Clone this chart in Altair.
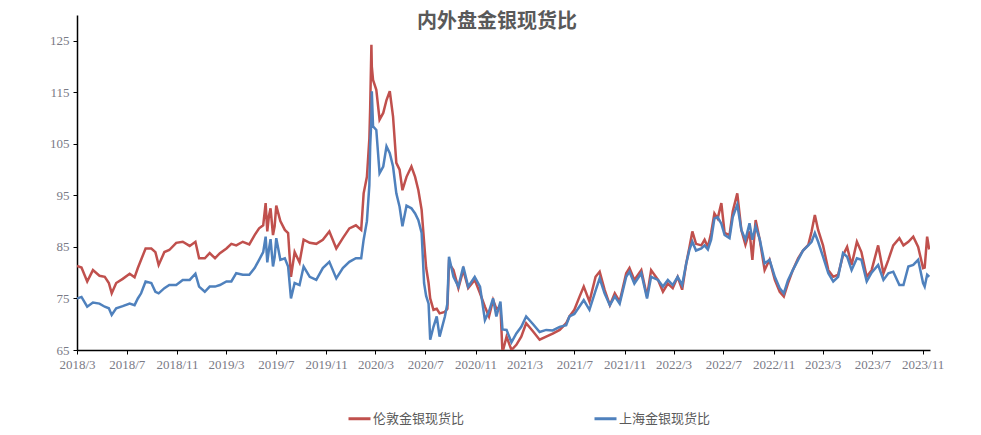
import altair as alt
import pandas as pd

title_text = "内外盘金银现货比"
series_names = ["伦敦金银现货比", "上海金银现货比"]
series_colors = ["#C0504D", "#4F81BD"]

dates = [
    "2018-03-01", "2018-03-12", "2018-03-26", "2018-04-09", "2018-04-25", "2018-05-08", "2018-05-18", "2018-05-25",
    "2018-06-05", "2018-06-21", "2018-07-08", "2018-07-20", "2018-07-28", "2018-08-05", "2018-08-16", "2018-08-30",
    "2018-09-09", "2018-09-17", "2018-10-01", "2018-10-13", "2018-10-30", "2018-11-15", "2018-12-02", "2018-12-16",
    "2018-12-25", "2019-01-08", "2019-01-20", "2019-02-02", "2019-02-14", "2019-03-02", "2019-03-14", "2019-03-26",
    "2019-04-11", "2019-04-27", "2019-05-10", "2019-05-21", "2019-05-31", "2019-06-06", "2019-06-10", "2019-06-14",
    "2019-06-18", "2019-06-24", "2019-06-28", "2019-07-02", "2019-07-12", "2019-07-23", "2019-07-31", "2019-08-07",
    "2019-08-16", "2019-08-28", "2019-09-07", "2019-09-22", "2019-10-08", "2019-10-24", "2019-11-09", "2019-11-26",
    "2019-12-12", "2019-12-28", "2020-01-13", "2020-01-26", "2020-02-01", "2020-02-09", "2020-02-15", "2020-02-17",
    "2020-02-20", "2020-02-21", "2020-02-24", "2020-03-03", "2020-03-11", "2020-03-20", "2020-03-28", "2020-04-05",
    "2020-04-13", "2020-04-21", "2020-04-29", "2020-05-06", "2020-05-16", "2020-05-28", "2020-06-06", "2020-06-14",
    "2020-06-22", "2020-06-28", "2020-07-03", "2020-07-09", "2020-07-13", "2020-07-21", "2020-07-29", "2020-08-05",
    "2020-08-18", "2020-08-24", "2020-08-28", "2020-09-08", "2020-09-20", "2020-10-02", "2020-10-14", "2020-10-30",
    "2020-11-12", "2020-11-24", "2020-12-04", "2020-12-14", "2020-12-22", "2021-01-01", "2021-01-06", "2021-01-16",
    "2021-01-28", "2021-02-09", "2021-02-21", "2021-03-05", "2021-03-22", "2021-04-07", "2021-04-23", "2021-05-09",
    "2021-05-26", "2021-06-11", "2021-06-19", "2021-07-01", "2021-07-14", "2021-07-24", "2021-08-07", "2021-08-22",
    "2021-09-01", "2021-09-13", "2021-09-26", "2021-10-08", "2021-10-20", "2021-11-05", "2021-11-13", "2021-11-25",
    "2021-12-12", "2021-12-26", "2022-01-05", "2022-01-22", "2022-02-03", "2022-02-15", "2022-02-27", "2022-03-11",
    "2022-03-22", "2022-04-01", "2022-04-09", "2022-04-16", "2022-04-25", "2022-05-08", "2022-05-16", "2022-05-24",
    "2022-06-01", "2022-06-09", "2022-06-17", "2022-06-26", "2022-07-04", "2022-07-16", "2022-07-24", "2022-08-04",
    "2022-08-14", "2022-08-24", "2022-09-03", "2022-09-10", "2022-09-18", "2022-09-28", "2022-10-10", "2022-10-22",
    "2022-11-04", "2022-11-16", "2022-11-26", "2022-12-06", "2022-12-18", "2022-12-31", "2023-01-12", "2023-01-25",
    "2023-02-02", "2023-02-10", "2023-02-18", "2023-03-02", "2023-03-15", "2023-03-27", "2023-04-08", "2023-04-20",
    "2023-04-30", "2023-05-11", "2023-05-24", "2023-06-04", "2023-06-17", "2023-06-29", "2023-07-15", "2023-07-28",
    "2023-08-09", "2023-08-21", "2023-09-05", "2023-09-15", "2023-09-27", "2023-10-09", "2023-10-21", "2023-11-02",
    "2023-11-06", "2023-11-12", "2023-11-17",
]

london = [
    81.3, 81.0, 78.3, 80.5, 79.4, 79.2, 78.0, 76.0,
    78.0, 78.8, 79.8, 79.1, 80.9, 82.5, 84.7, 84.7,
    84.0, 81.5, 84.0, 84.4, 85.8, 86.0, 85.2, 86.0,
    82.8, 82.8, 83.8, 82.8, 83.8, 84.7, 85.6, 85.3,
    86.0, 85.5, 87.3, 88.6, 89.2, 93.5, 88.0, 91.0,
    92.5, 87.3, 89.0, 93.0, 90.0, 88.3, 87.7, 79.2,
    84.0, 82.0, 86.4, 85.8, 85.6, 86.4, 88.0, 84.7,
    86.7, 88.6, 89.2, 88.3, 95.4, 98.6, 106.0, 112.0,
    124.2, 120.0, 117.4, 115.5, 109.7, 111.0, 113.5, 115.2,
    110.3, 101.3, 100.0, 96.0, 98.6, 100.6, 98.6, 96.0,
    92.2, 86.0, 81.0, 78.0, 75.0, 72.8, 73.0, 72.1,
    72.4, 73.0, 81.8, 80.5, 77.0, 80.5, 77.0, 78.6,
    76.0, 73.4, 71.5, 74.7, 73.0, 73.4, 64.5, 67.6,
    65.0, 66.0, 67.6, 70.2, 68.6, 67.0, 67.6, 68.2,
    68.9, 70.2, 71.5, 72.8, 75.4, 77.3, 74.4, 79.2,
    80.2, 76.7, 73.7, 76.0, 74.4, 79.9, 80.9, 78.6,
    80.5, 75.4, 80.5, 78.6, 76.3, 77.9, 77.0, 79.2,
    76.7, 81.8, 85.0, 88.0, 85.6, 85.3, 86.4, 85.0,
    87.7, 91.5, 90.5, 93.5, 87.7, 87.3, 91.9, 95.4,
    88.3, 85.4, 88.0, 82.5, 90.2, 86.4, 80.5, 82.5,
    78.6, 76.3, 75.4, 77.9, 80.5, 82.8, 84.3, 85.4,
    88.0, 91.2, 88.3, 85.3, 80.5, 79.2, 79.6, 83.4,
    85.0, 81.5, 86.0, 84.0, 79.2, 80.5, 85.3, 79.9,
    82.5, 85.3, 86.7, 85.3, 86.0, 87.0, 85.0, 80.9,
    81.0, 87.0, 84.5,
]

shanghai = [
    75.0, 75.3, 73.4, 74.2, 74.0, 73.4, 73.1, 71.8,
    73.1, 73.5, 74.0, 73.7, 75.0, 76.0, 78.3, 78.0,
    76.3, 76.0, 77.0, 77.6, 77.6, 78.6, 78.6, 79.8,
    77.3, 76.3, 77.3, 77.3, 77.6, 78.3, 78.3, 79.9,
    79.6, 79.6, 80.9, 82.5, 84.0, 87.0, 82.0, 84.5,
    86.5, 81.2, 83.0, 86.7, 82.5, 82.8, 81.2, 75.0,
    78.0, 77.6, 81.2, 79.2, 78.6, 80.9, 82.1, 78.9,
    80.9, 82.1, 82.8, 82.8, 86.4, 90.0, 97.0, 104.5,
    110.0, 115.2, 108.4, 107.7, 99.3, 100.6, 104.5, 103.2,
    100.6, 95.4, 92.8, 89.0, 93.0, 92.5, 91.5, 90.2,
    87.7, 78.0, 75.5, 74.0, 67.0, 69.5, 71.5, 67.6,
    71.5, 74.0, 83.1, 79.2, 77.3, 81.2, 77.3, 79.2,
    77.3, 70.8, 72.5, 75.0, 71.5, 74.4, 69.0, 68.9,
    66.5, 68.2, 69.5, 71.5, 70.0, 68.5, 68.9, 68.8,
    69.5, 69.8, 71.5, 72.0, 73.5, 74.7, 72.8, 76.5,
    78.9, 76.0, 73.7, 75.4, 74.0, 79.2, 80.2, 77.9,
    79.9, 75.0, 79.2, 78.6, 77.3, 78.6, 77.6, 79.2,
    77.6, 81.8, 84.5, 86.0, 84.3, 84.7, 85.3, 84.5,
    86.4, 90.5, 90.8, 89.5, 87.3, 86.7, 90.8, 93.2,
    88.3, 86.4, 89.6, 86.4, 89.0, 86.5, 81.8, 82.5,
    79.2, 77.0, 76.0, 78.5, 80.5, 82.5, 84.3, 85.3,
    86.0, 87.7, 86.0, 83.1, 79.9, 78.3, 79.2, 83.8,
    83.1, 80.5, 82.8, 82.5, 78.3, 80.0, 81.5, 78.6,
    79.9, 80.2, 77.6, 77.6, 81.2, 81.5, 82.5, 78.0,
    77.3, 79.6, 79.2,
]

x_tick_labels = [
    "2018-03-01", "2018-07-01", "2018-11-01", "2019-03-01", "2019-07-01", "2019-11-01",
    "2020-03-01", "2020-07-01", "2020-11-01", "2021-03-01", "2021-07-01", "2021-11-01",
    "2022-03-01", "2022-07-01", "2022-11-01", "2023-03-01", "2023-07-01", "2023-11-01",
]
x_domain = ["2018-03-01", "2023-11-19"]
y_ticks = [65, 75, 85, 95, 105, 115, 125]
y_domain = [65, 130]


def to_ms(s):
    return int(pd.Timestamp(s, tz="UTC").value // 10**6)


df = pd.concat([
    pd.DataFrame({"date": [to_ms(d) for d in dates], "value": london, "series": series_names[0], "ord": 0}),
    pd.DataFrame({"date": [to_ms(d) for d in dates], "value": shanghai, "series": series_names[1], "ord": 1}),
])

label_color = "#7a7a86"
serif = "Liberation Serif"

lines = alt.Chart(df).mark_line(strokeWidth=2.5, clip=True).encode(
    x=alt.X(
        "date:T",
        scale=alt.Scale(type="utc", domain=[to_ms(d) for d in x_domain], nice=False),
        axis=alt.Axis(
            values=[to_ms(d) for d in x_tick_labels],
            labelExpr="utcFormat(datum.value, '%Y/%-m')",
            title=None, grid=False, labelAngle=0, labelOverlap=False, labelFlush=False,
            domainColor="#000000", domainWidth=1.5, tickColor="#000000", tickSize=4,
            labelFont=serif, labelFontSize=13, labelColor=label_color, labelPadding=4,
        ),
    ),
    y=alt.Y(
        "value:Q",
        scale=alt.Scale(domain=y_domain, nice=False, zero=False),
        axis=alt.Axis(
            values=y_ticks, title=None, grid=False,
            domainColor="#000000", domainWidth=1.5, tickColor="#000000", tickSize=4,
            labelFont=serif, labelFontSize=13, labelColor=label_color, labelPadding=4,
        ),
    ),
    color=alt.Color(
        "series:N",
        sort=series_names,
        scale=alt.Scale(domain=series_names, range=series_colors),
        legend=alt.Legend(
            title=None, orient="none", legendX=270, legendY=391, direction="horizontal",
            symbolType="stroke", symbolSize=484, symbolStrokeWidth=3,
            labelFont="Noto Sans CJK SC", labelFontSize=13, labelColor="#595959",
            labelOffset=1, columnPadding=123, padding=0,
        ),
    ),
    order=alt.Order("ord:Q"),
    detail="series:N",
)

title = alt.Chart(pd.DataFrame({"t": [title_text]})).mark_text(
    font="Noto Sans CJK SC", fontSize=20, fontWeight="bold", color="#595959", baseline="middle", align="center",
).encode(text="t:N", x=alt.value(420), y=alt.value(7))

chart = alt.layer(lines, title).properties(
    width=853, height=335,
    autosize=alt.AutoSizeParams(type="none"),
    padding={"left": 69, "top": 7, "right": 30, "bottom": 82},
    background="#ffffff",
).configure_view(strokeWidth=0)

chart.save("out.html", embed_options={"renderer": "svg", "actions": False})
